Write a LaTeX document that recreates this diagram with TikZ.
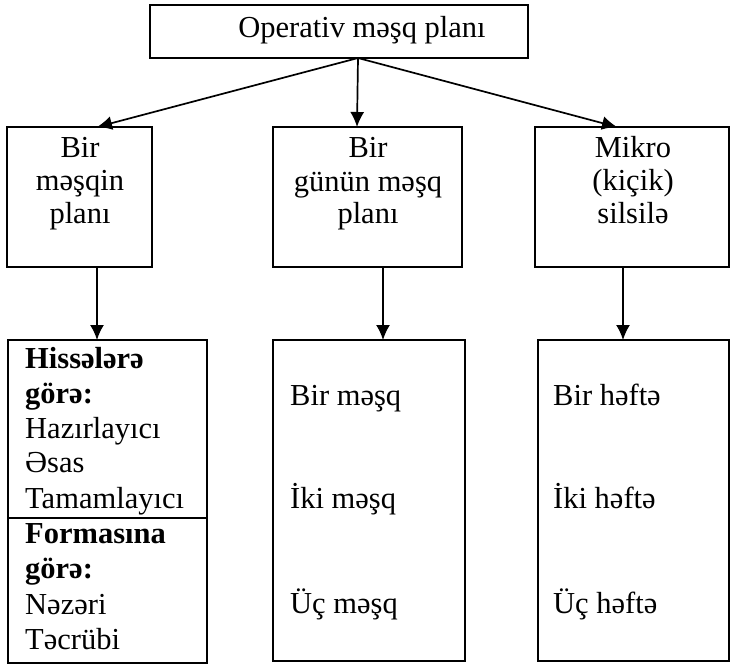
\documentclass[tikz,border=0pt]{standalone}
\usepackage{fontspec}
\setmainfont{Liberation Serif}
\usetikzlibrary{arrows.meta}
\begin{document}
\begin{tikzpicture}[x=1pt,y=-1pt,
  box/.style={draw,line width=1.9pt,rectangle,inner sep=0pt,outer sep=0pt},
  lbl/.style={font=\fontsize{30.5}{36}\selectfont,inner sep=0pt,anchor=base},
  lbll/.style={lbl,anchor=base west},
  lblb/.style={lbll,font=\fontsize{30.5}{36}\selectfont\bfseries},
  arr/.style={line width=1.7pt,-{Latex[length=15pt,width=14pt]}}]
\useasboundingbox (0,0) rectangle (731,667);

% boxes
\node[box,minimum width=378pt,minimum height=53pt] (top) at (339,31.5) {};
\node[box,minimum width=145pt,minimum height=140pt] (b1) at (79.5,197) {};
\node[box,minimum width=189pt,minimum height=140pt] (b2) at (367.5,197) {};
\node[box,minimum width=194pt,minimum height=140pt] (b3) at (632,197) {};
\node[box,minimum width=199pt,minimum height=323pt] (c1) at (107.5,501.5) {};
\node[box,minimum width=192pt,minimum height=321pt] (c2) at (369,500.5) {};
\node[box,minimum width=191pt,minimum height=321pt] (c3) at (633.5,500.5) {};

% divider inside the first lower box
\coordinate (div) at (0,518);
\draw[line width=1.9pt] (c1.west |- div) -- (c1.east |- div);

% arrow columns
\path (top.south) ++(19,0) coordinate (hub);
\coordinate (xa) at (97,0);
\coordinate (xb) at (357,0);
\coordinate (xc) at (617,0);
\coordinate (xd) at (383,0);
\coordinate (xe) at (623,0);

\draw[arr] (hub) -- (b1.north -| xa);
\draw[arr] (hub) -- (b2.north -| xb);
\draw[arr] (hub) -- (b3.north -| xc);
\draw[arr] (b1.south -| xa) -- (c1.north -| xa);
\draw[arr] (b2.south -| xd) -- (c2.north -| xd);
\draw[arr] (b3.south -| xe) -- (c3.north -| xe);

% texts
\node[lbl] (t0) at (362,37) {Operativ məşq planı};

\node[lbl] (t1a) at (80,157) {Bir};
\node[lbl] (t1b) at (80,190) {məşqin};
\node[lbl] (t1c) at (80,223) {planı};

\node[lbl] (t2a) at (368,157) {Bir};
\node[lbl] (t2b) at (368,191) {günün məşq};
\node[lbl] (t2c) at (368,223) {planı};

\node[lbl] (t3a) at (633,157) {Mikro};
\node[lbl] (t3b) at (633,190) {(kiçik)};
\node[lbl] (t3c) at (633,223) {silsilə};

\node[lblb] (u1) at (25,368) {Hissələrə};
\node[lblb] (u2) at (25,403) {görə:};
\node[lbll] (u3) at (25,438) {Hazırlayıcı};
\node[lbll] (u4) at (25,472) {Əsas};
\node[lbll] (u5) at (25,508) {Tamamlayıcı};
\node[lblb] (u6) at (25,543) {Formasına};
\node[lblb] (u7) at (25,578) {görə:};
\node[lbll] (u8) at (25,614) {Nəzəri};
\node[lbll] (u9) at (25,649) {Təcrübi};

\node[lbll] (v1) at (290,405) {Bir məşq};
\node[lbll] (v2) at (290,508) {İki məşq};
\node[lbll] (v3) at (290,613) {Üç məşq};

\node[lbll] (w1) at (553,405) {Bir həftə};
\node[lbll] (w2) at (553,508) {İki həftə};
\node[lbll] (w3) at (553,613) {Üç həftə};
\end{tikzpicture}
\end{document}
